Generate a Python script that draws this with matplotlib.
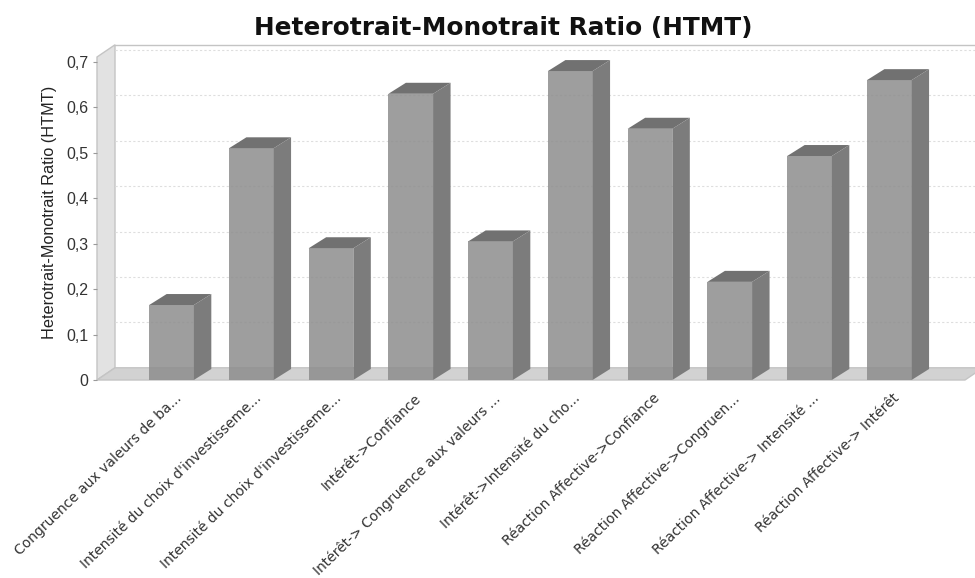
import matplotlib
matplotlib.use('Agg')
import matplotlib.pyplot as plt
import matplotlib.transforms as mtransforms
from matplotlib.patches import Polygon

# values
labels = ['Congruence aux valeurs de ba...', "Intensité du choix d'investisseme...",
          "Intensité du choix d'investisseme...", 'Intérêt->Confiance',
          'Intérêt-> Congruence aux valeurs ...', 'Intérêt->Intensité du cho...',
          'Réaction Affective->Confiance', 'Réaction Affective->Congruen...',
          'Réaction Affective-> Intensité ...', 'Réaction Affective-> Intérêt']
values = [0.165, 0.51, 0.29, 0.63, 0.305, 0.68, 0.553, 0.216, 0.493, 0.66]
yticks = [0, 0.1, 0.2, 0.3, 0.4, 0.5, 0.6, 0.7]
ytick_labels = ['0', '0,1', '0,2', '0,3', '0,4', '0,5', '0,6', '0,7']

fig = plt.figure(figsize=(9.75, 5.78), dpi=100)
ax = fig.add_axes([97 / 975, (578 - 380) / 578, 868 / 975, 323 / 578])

x0, x1 = -0.934, 9.95
y0, y1 = 0, 0.711
ax.set_xlim(x0, x1)
ax.set_ylim(y0, y1)

# depth of the fake 3d effect, in data units
dx = 18 / 79.75
dy = 12.2 / 454
bar_w = 0.56
bar_dx = 17.5 / 79.75
bar_dy = 11 / 454

# left wall and floor
ax.add_patch(Polygon([(x0, y0), (x0 + dx, y0 + dy), (x0 + dx, y1 + dy), (x0, y1)],
                     closed=True, fc='#e2e2e2', ec='#c4c4c4', lw=1, clip_on=False, zorder=1))
ax.add_patch(Polygon([(x0, y0), (x0 + dx, y0 + dy), (x1 + dx, y0 + dy), (x1, y0)],
                     closed=True, fc='#d2d2d2', ec='#c4c4c4', lw=1, clip_on=False, zorder=1))

# back wall top line and grid
ax.plot([x0 + dx, x1 + dx], [y1 + dy, y1 + dy], color='#c4c4c4', lw=1, clip_on=False, zorder=1)
for t in yticks[1:]:
    ax.plot([x0 + dx, x1 + dx], [t + dy, t + dy], color='#dedede', lw=0.8,
            ls=(0, (2, 2)), clip_on=False, zorder=1)

# bars
xs = list(range(len(values)))
for x, v in zip(xs, values):
    left = x - bar_w / 2
    right = x + bar_w / 2
    ax.add_patch(Polygon([(right, 0), (right + bar_dx, bar_dy), (right + bar_dx, v + bar_dy), (right, v)],
                         closed=True, fc='#7c7c7c', ec='none', zorder=3))
    ax.add_patch(Polygon([(left, v), (left + bar_dx, v + bar_dy), (right + bar_dx, v + bar_dy), (right, v)],
                         closed=True, fc='#717171', ec='none', zorder=3))
ax.bar(xs, values, width=bar_w, color='#8e8e8e', alpha=0.86, linewidth=0, zorder=4)

for s in ax.spines.values():
    s.set_visible(False)
ax.patch.set_visible(False)

ax.set_yticks(yticks)
ax.set_yticklabels(ytick_labels, family='Liberation Sans', fontsize=11.5, color='#333333')
ax.tick_params(axis='y', length=3, color='#999999', pad=3, width=0.8)
ax.set_ylabel('Heterotrait-Monotrait Ratio (HTMT)', family='Liberation Sans', fontsize=11.7,
              color='#222222')
ax.yaxis.set_label_coords(-0.046, 0.52)

ax.set_xticks(xs)
ax.set_xticklabels(labels, family='DejaVu Sans', fontsize=10.0, color='#333333',
                   rotation=44, ha='right', va='top', rotation_mode='anchor')
ax.tick_params(axis='x', length=0, pad=0)
offset = mtransforms.ScaledTranslation(3 / 100, -11 / 100, fig.dpi_scale_trans)
clip = mtransforms.Bbox([[13, 0], [975, 578]])
for lab in ax.get_xticklabels():
    lab.set_transform(lab.get_transform() + offset)
    lab.set_clip_box(clip)
    lab.set_clip_on(True)

fig.text(503 / 975, 1 - 28 / 578, 'Heterotrait-Monotrait Ratio (HTMT)', ha='center', va='center',
         fontsize=17.8, fontweight='bold', family='DejaVu Sans', color='#111111')

fig.savefig('out.png', dpi=100, facecolor='white')
